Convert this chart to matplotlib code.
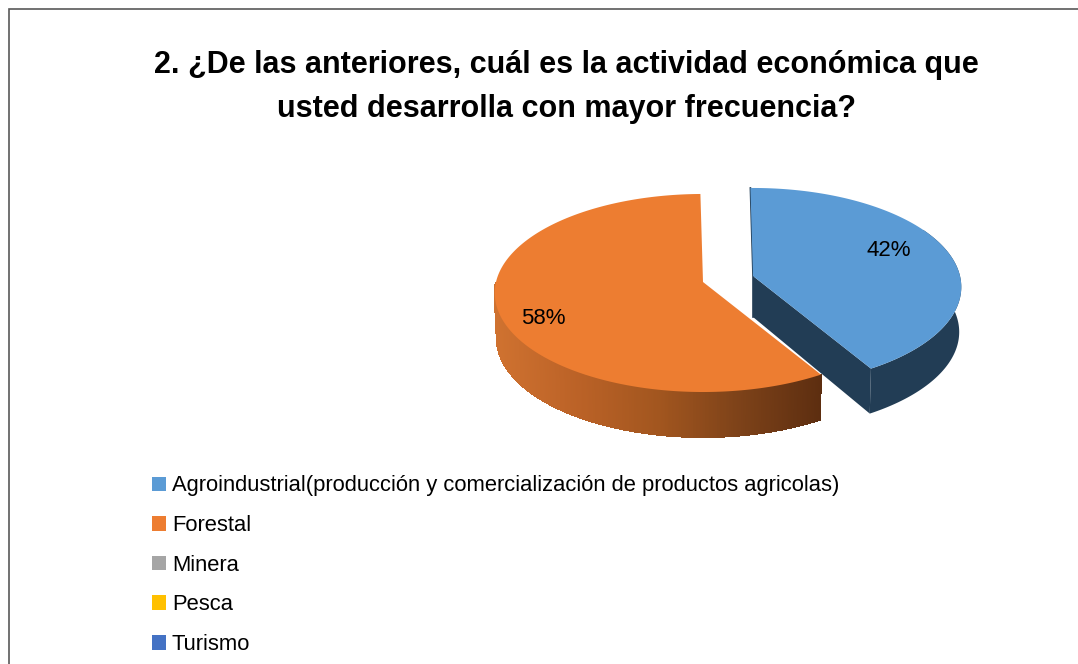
"""3D-look pie: share of main economic activity, drawn on a pixel-sized axes."""
import numpy as np
import matplotlib
matplotlib.use("Agg")
import matplotlib.pyplot as plt
from matplotlib.collections import PolyCollection
from matplotlib.colors import LinearSegmentedColormap
from matplotlib.patches import Patch

plt.rcParams["font.family"] = ["Liberation Sans", "DejaVu Sans"]

title = "2. ¿De las anteriores, cuál es la actividad económica que\nusted desarrolla con mayor frecuencia?"
categories = ["Agroindustrial(producción y comercialización de productos agricolas)",
              "Forestal", "Minera", "Pesca", "Turismo"]
values = [41.6, 58.4, 0, 0, 0]   # labels show them rounded, slice edges read slightly under 42
colors = ["#5b9bd5", "#ed7d31", "#a5a5a5", "#ffc000", "#4472c4"]

RX, RY, K = 207.0, 97.8, 0.111   # ellipse radii and perspective strength
DEPTH, SHRINK = 45.0, 0.99       # wall height, bottom face scale
ROT = -0.8                       # first slice angle, degrees clockwise from 12 o'clock


def project(theta, cx, cy, floor=False):
    """Clockwise angle from 12 o'clock (deg) on the pie rim -> pixel position."""
    t = np.radians(theta)
    u, v = np.sin(t), np.cos(t)
    w = 1 + K * v
    s = SHRINK if floor else 1.0
    return cx + s * RX * u / w, cy - RY * v / w + (DEPTH if floor else 0.0)


fig = plt.figure(figsize=(10.78, 6.64), dpi=100)
ax = fig.add_axes([0, 0, 1, 1])
ax.set_xlim(0, 1078)
ax.set_ylim(664, 0)
ax.axis("off")

# chart frame, only left and top are inside the crop
ax.plot([9, 9, 1078], [664, 9, 9], color="#595959", lw=1.2, solid_joinstyle="miter")

total = sum(values)
end_blue = ROT + 360 * values[0] / total
centers = [(753, 276), (703, 282)]
spans = [(ROT, end_blue), (end_blue, ROT + 360)]
wall_cmap = LinearSegmentedColormap.from_list(
    "wall", ["#cf7230", "#bb6227", "#a2561f", "#7d4219", "#5d2e10"])

# blue slice: walls first, top after
(cx, cy), (a0, a1) = centers[0], spans[0]
th = np.linspace(a0, a1, 200)
xt, yt = project(th, cx, cy)
xb, yb = project(th, cx, cy, floor=True)
front = th > 60                  # back part of the rim has no visible wall
ax.fill(np.r_[xt[front], xb[front][::-1]], np.r_[yt[front], yb[front][::-1]],
        color="#223d55", lw=0, zorder=2)
ax.fill([cx, xt[-1], xb[-1], cx], [cy, yt[-1], yb[-1], cy + 41], color="#223d55", lw=0, zorder=2)
ax.plot([xt[0], cx, cx], [yt[0], cy, cy + 41], color="#223d55", lw=1.2, zorder=2)
ax.fill(np.r_[cx, xt], np.r_[cy, yt], color=colors[0], lw=0, zorder=3)

# orange slice: wall gets a left-to-right shade, front part of the rim only
(cx, cy), (a0, a1) = centers[1], spans[1]
th = np.linspace(a0, a1, 600)
xt, yt = project(th, cx, cy)
xb, yb = project(th, cx, cy, floor=True)
wall = np.where(th < 270)[0]
quads = [[(xt[i], yt[i]), (xt[i + 1], yt[i + 1]), (xb[i + 1], yb[i + 1]), (xb[i], yb[i])]
         for i in wall[:-1]]
shade = wall_cmap((xt[wall[:-1]] - xt.min()) / (xt[wall].max() - xt.min()))
ax.add_collection(PolyCollection(quads, facecolors=shade, edgecolors=shade, linewidths=0.8,
                                 antialiaseds=False, zorder=4))
ax.fill(np.r_[cx, xt], np.r_[cy, yt], color=colors[1], lw=0, zorder=5)

for v, (lx, ly) in zip(values[:2], [(888.5, 250), (543, 318)]):
    ax.text(lx, ly, f"{round(100 * v / total)}%", fontsize=16, ha="center", va="center",
            color="black", zorder=6)

ax.text(566.5, 87, title, fontsize=22, fontweight="bold", ha="center", va="center",
        linespacing=1.63, color="black")

handles = [Patch(facecolor=c, edgecolor="none") for c in colors]
ax.legend(handles, categories, loc="upper left", bbox_to_anchor=(152 / 1078, 1 - 475.5 / 664),
          bbox_transform=fig.transFigure, frameon=False, fontsize=15.8, handlelength=0.64,
          handleheight=0.64, handletextpad=0.26, labelspacing=0.85, borderpad=0, borderaxespad=0,
          labelcolor="black")

fig.savefig("out.png", dpi=100)
